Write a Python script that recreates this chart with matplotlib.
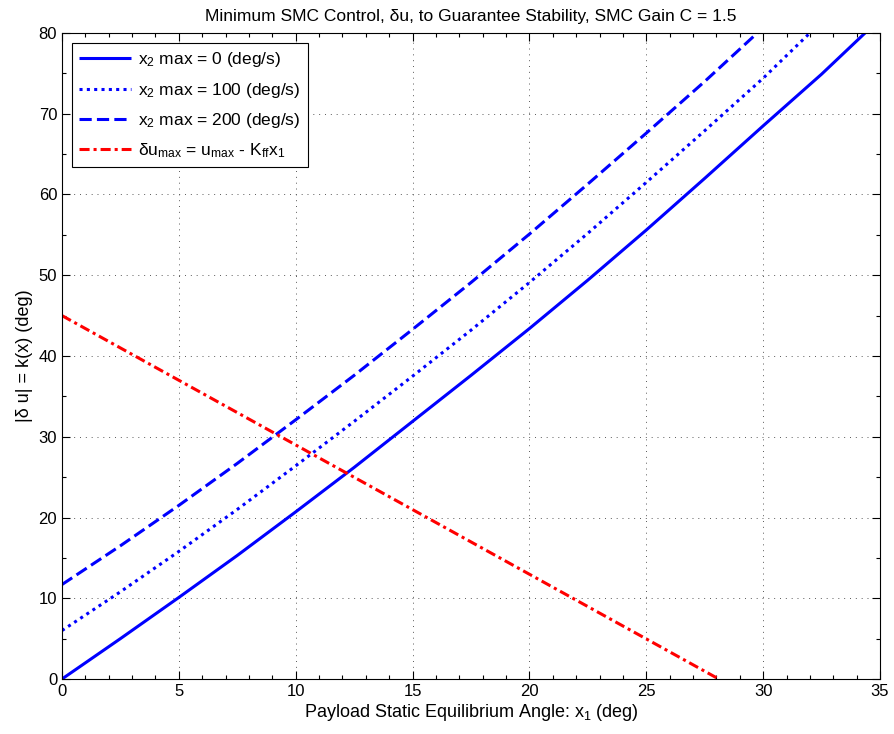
import numpy as np
import matplotlib
matplotlib.use('Agg')
import matplotlib.pyplot as plt
from matplotlib.ticker import MultipleLocator

plt.rcParams['font.family'] = ['Liberation Sans', 'DejaVu Sans']
plt.rcParams['font.size'] = 12
plt.rcParams['mathtext.fontset'] = 'custom'
plt.rcParams['mathtext.rm'] = 'Liberation Sans'
plt.rcParams['mathtext.it'] = 'Liberation Sans'
plt.rcParams['mathtext.bf'] = 'Liberation Sans:bold'

# values
x_0 = [0, 2.5, 5, 7.5, 10, 12.5, 15, 17.5, 20, 22.5, 25, 27.5, 30, 32.5, 34.36]
k_0 = [0, 5.0, 10.1, 15.3, 20.7, 26.2, 31.9, 37.6, 43.4, 49.4, 55.6, 62.0, 68.5, 74.9, 80]

x_100 = [0, 2.5, 5, 7.5, 10, 12.5, 15, 17.5, 20, 22.5, 25, 27.5, 30, 32.0]
k_100 = [6.0, 10.8, 15.8, 21.0, 26.4, 31.9, 37.5, 43.2, 49.1, 55.2, 61.5, 67.9, 74.4, 80]

x_200 = [0, 2.5, 5, 7.5, 10, 12.5, 15, 17.5, 20, 22.5, 25, 27.5, 29.75]
k_200 = [11.7, 16.5, 21.5, 26.7, 32.1, 37.6, 43.3, 49.1, 55.1, 61.3, 67.6, 74.0, 80]

x_max = [0, 28.1]
du_max = [45, 0]

fig = plt.figure(figsize=(8.94, 7.34), dpi=100)
ax = fig.add_axes([62/894, 1-679/734, (880-62)/894, (679-33)/734])

l1, = ax.plot(x_0, k_0, color='#0000ff', lw=2.2, solid_capstyle='butt')
l2, = ax.plot(x_100, k_100, color='#0000ff', lw=2.2, linestyle=(0, (1, 1.4)))
l3, = ax.plot(x_200, k_200, color='#0000ff', lw=2.2, linestyle=(0, (4, 1.7)))
l4, = ax.plot(x_max, du_max, color='#ff0000', lw=2.2, linestyle=(0, (3.3, 1.3, 1, 1.3)))

ax.set_xlim(0, 35)
ax.set_ylim(0, 80)
ax.xaxis.set_major_locator(MultipleLocator(5))
ax.xaxis.set_minor_locator(MultipleLocator(1))
ax.yaxis.set_major_locator(MultipleLocator(10))
ax.yaxis.set_minor_locator(MultipleLocator(5))
ax.tick_params(which='both', direction='in', top=True, right=True, labelsize=12, width=0.8)
ax.tick_params(which='major', length=6)
ax.tick_params(which='minor', length=3)
ax.grid(True, which='major', color='0.35', linestyle=(0, (1, 5)), lw=0.7)
for s in ax.spines.values():
    s.set_linewidth(0.8)

ax.set_title('Minimum SMC Control, δu, to Guarantee Stability, SMC Gain C = 1.5', fontsize=12.5, pad=9)
ax.set_xlabel('Payload Static Equilibrium Angle: x$_1$ (deg)', fontsize=13, labelpad=2)
ax.set_ylabel('|δ u| = k(x) (deg)', fontsize=13, labelpad=4)

leg = ax.legend([l1, l2, l3, l4],
                ['x$_2$ max = 0 (deg/s)', 'x$_2$ max = 100 (deg/s)',
                 'x$_2$ max = 200 (deg/s)', 'δu$_{max}$ = u$_{max}$ - K$_{ff}$x$_1$'],
                loc='upper left', fontsize=12.5, fancybox=False, framealpha=1,
                edgecolor='black', handlelength=3.0, handletextpad=0.4,
                borderaxespad=0.6, labelspacing=0.65)
leg.get_frame().set_linewidth(0.8)

fig.savefig('out.png', dpi=100)
